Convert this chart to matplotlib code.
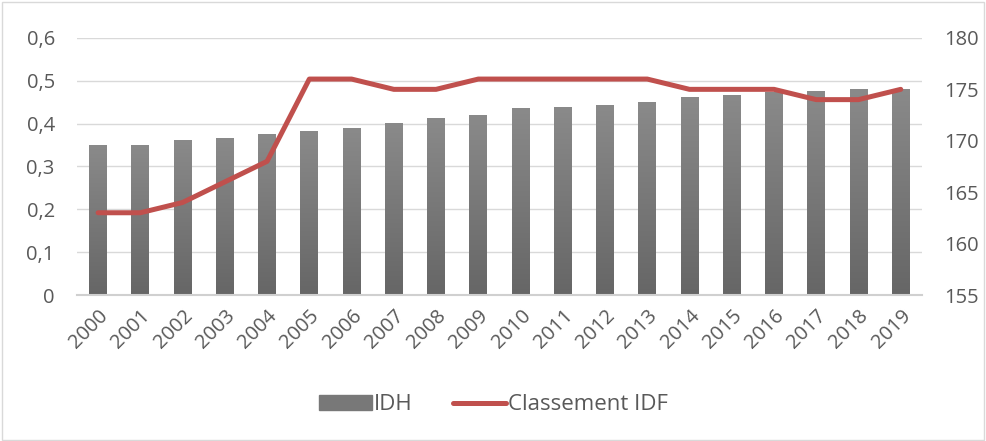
import matplotlib
matplotlib.use("Agg")
import matplotlib.pyplot as plt
import matplotlib.patches as mpatches
from matplotlib.lines import Line2D
from matplotlib.colors import LinearSegmentedColormap
from matplotlib.ticker import FuncFormatter
import numpy as np

years = [str(y) for y in range(2000, 2020)]
idh = [0.35, 0.35, 0.36, 0.366, 0.375, 0.382, 0.389, 0.401, 0.413, 0.42,
       0.436, 0.438, 0.443, 0.45, 0.462, 0.466, 0.473, 0.476, 0.48, 0.48]
classement = [163, 163, 164, 166, 168, 176, 176, 175, 175, 176,
              176, 176, 176, 176, 175, 175, 175, 174, 174, 175]

plt.rcParams['font.family'] = ['Open Sans', 'DejaVu Sans']
txt = '#595959'
fs = 14.5

fig = plt.figure(figsize=(9.87, 4.41), dpi=100)
ax = fig.add_axes([0.078, 0.331, 0.856, 0.583])
ax2 = ax.twinx()

x = np.arange(len(years))
w = 0.42
cmap = LinearSegmentedColormap.from_list('g', ['#666666', '#8a8a8a'])
grad = np.linspace(0, 1, 256).reshape(-1, 1)
for xi, v in zip(x, idh):
    ax.imshow(grad, extent=[xi - w / 2, xi + w / 2, 0, v], origin='lower',
              aspect='auto', cmap=cmap, zorder=2)

ax.set_xlim(-0.5, len(years) - 0.5)
ax.set_ylim(0, 0.6)
ax.set_yticks(np.arange(0, 0.61, 0.1))
ax.yaxis.set_major_formatter(FuncFormatter(lambda v, p: f'{v:.1f}'.replace('.', ',') if v else '0'))
ax.set_xticks(x)
ax.set_xticklabels(years, rotation=45, ha='right', rotation_mode='anchor')
ax.grid(axis='y', color='#d9d9d9', lw=1, zorder=0)
ax.set_axisbelow(True)

ax2.plot(x, classement, color='#c0504d', lw=3.6, solid_capstyle='round',
         solid_joinstyle='round', zorder=3)
ax2.set_ylim(155, 180)
ax2.set_yticks(range(155, 181, 5))

for a in (ax, ax2):
    for s in a.spines.values():
        s.set_visible(False)
    a.tick_params(length=0, labelsize=fs, colors=txt)
ax.spines['bottom'].set_visible(True)
ax.spines['bottom'].set_color('#d0d0d0')
ax.spines['bottom'].set_linewidth(1.5)
ax.tick_params(axis='x', pad=8)
ax.tick_params(axis='y', pad=16)
ax2.tick_params(axis='y', pad=16)

handles = [mpatches.Patch(color='#787878'),
           Line2D([], [], color='#c0504d', lw=3.6, solid_capstyle='round')]
fig.legend(handles, ['IDH', 'Classement IDF'], loc='center', ncol=2,
           bbox_to_anchor=(0.5, 0.082), frameon=False, fontsize=16,
           labelcolor=txt, handlelength=2.4, handletextpad=0.1,
           columnspacing=1.8)

fig.patches.append(mpatches.Rectangle((0.002, 0.003), 0.995, 0.993,
                                      transform=fig.transFigure, fill=False,
                                      edgecolor='#d9d9d9', lw=1))

fig.savefig('out.png', dpi=100)
